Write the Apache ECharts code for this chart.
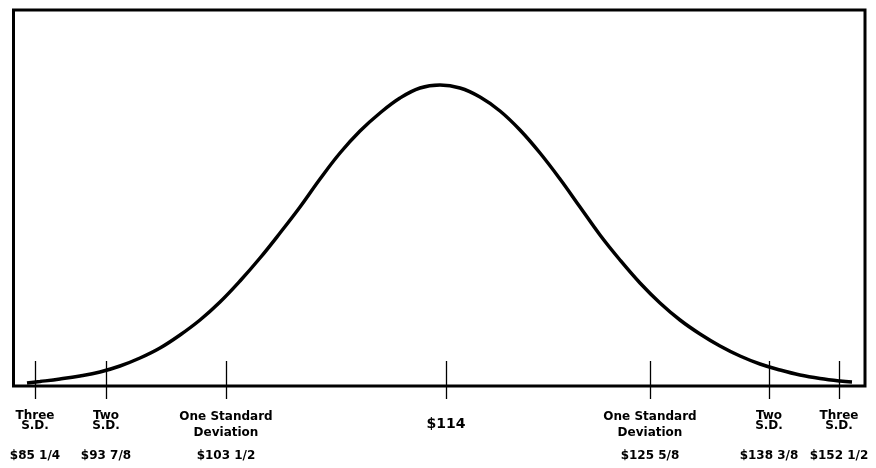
<!DOCTYPE html>
<html>
<head>
<meta charset="utf-8">
<script src="https://cdn.jsdelivr.net/npm/echarts@6/dist/echarts.min.js"></script>
<style>html,body{margin:0;padding:0;background:#fff;}#c{width:876px;height:468px;}</style>
</head>
<body>
<div id="c"></div>
<script>
// Curve positions (x along the axis, y height above baseline)
const curveX = [27, 40, 60, 80, 100, 120, 140, 160, 180, 200, 220, 240, 260, 280, 300, 320, 340, 360, 380, 400, 420, 440, 460, 480, 500, 520, 540, 560, 580, 600, 620, 640, 660, 680, 700, 720, 740, 760, 780, 800, 820, 840, 852];
const curveY = [3, 4.5, 7, 10, 14, 20, 28, 38, 51, 66, 84, 105, 128, 153, 179, 207, 233, 255, 273, 288, 298, 301, 298, 289, 275, 256, 233, 207, 179, 151, 126, 103, 83, 66, 52, 40, 30, 22, 16, 11, 7.5, 5, 4];
// Tick positions along the axis and their labels
const tickPos = [35, 106, 226, 446, 650, 769, 839];
const labelTop = ['Three', 'Two', 'One Standard', '', 'One Standard', 'Two', 'Three'];
const labelMid = ['S.D.', 'S.D.', 'Deviation', '', 'Deviation', 'S.D.', 'S.D.'];
const priceLabels = ['$85 1/4', '$93 7/8', '$103 1/2', '$114', '$125 5/8', '$138 3/8', '$152 1/2'];

const F = 'DejaVu Sans';
function st(lh, fs) {
  return { fontFamily: F, fontWeight: 'bold', fontSize: fs || 12, lineHeight: lh, color: '#000', align: 'center' };
}
const chart = echarts.init(document.getElementById('c'), null, { renderer: 'canvas' });
chart.setOption({
  animation: false,
  backgroundColor: '#fff',
  grid: { left: 13.5, top: 10, right: 11, bottom: 82, show: true, borderColor: '#000', borderWidth: 3, backgroundColor: 'transparent' },
  xAxis: [{
    type: 'value', min: 13.5, max: 865, position: 'bottom',
    axisLine: { show: false }, splitLine: { show: false },
    axisTick: { show: true, inside: true, length: 25, customValues: tickPos, lineStyle: { color: '#000', width: 1.3 } },
    axisLabel: {
      show: true, customValues: tickPos, margin: 24, hideOverlap: false,
      fontFamily: F, fontWeight: 'bold', fontSize: 12, color: '#000',
      formatter: function (v) {
        const i = tickPos.indexOf(v);
        if (i < 0) return '';
        if (!labelTop[i]) return '{c|' + priceLabels[i] + '}';
        if (labelTop[i].length > 6) return '{o1|' + labelTop[i] + '}\n{o2|' + labelMid[i] + '}\n{op|' + priceLabels[i] + '}';
        return '{s1|' + labelTop[i] + '}\n{s2|' + labelMid[i] + '}\n{sp|' + priceLabels[i] + '}';
      },
      rich: {
        s1: st(11), s2: st(10), sp: st(50),
        o1: st(13), o2: st(19), op: st(27),
        c: st(28, 14)
      }
    }
  }, {
    type: 'value', min: 13.5, max: 865, position: 'bottom',
    axisLine: { show: false }, splitLine: { show: false },
    axisTick: { show: true, inside: false, length: 13, customValues: tickPos, lineStyle: { color: '#000', width: 1.3 } },
    axisLabel: { show: false }
  }],
  yAxis: { type: 'value', min: 0, max: 376, show: false, splitLine: { show: false } },
  series: [{
    type: 'line',
    xAxisIndex: 0,
    data: curveX.map((x, i) => [x, curveY[i]]),
    smooth: 0.4,
    showSymbol: false,
    symbol: 'none',
    lineStyle: { color: '#000', width: 3.5 },
    clip: false
  }]
});
</script>
</body>
</html>
